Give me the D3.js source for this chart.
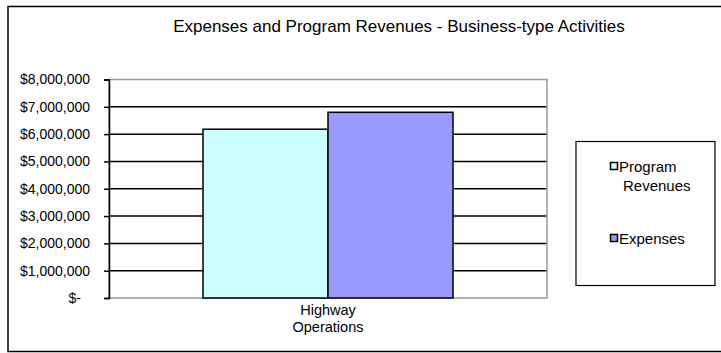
<!DOCTYPE html>
<html>
<head>
<meta charset="utf-8">
<script src="https://cdn.jsdelivr.net/npm/d3@7"></script>
<style>
  html, body { margin: 0; padding: 0; background: #fff; }
  svg { display: block; font-family: "Liberation Sans", Arial, sans-serif; }
</style>
</head>
<body>
<svg id="chart" width="721" height="353"></svg>
<script>
// Chart data
const categories = ["Highway Operations"];
const categoryLines = [["Highway", "Operations"]];
const seriesNames = ["Program Revenues", "Expenses"];
const seriesLegendLines = [["Program", "Revenues"], ["Expenses"]];
const seriesColors = ["#CCFFFF", "#9999FF"];
const programRevenues = [6180000];
const expenses = [6800000];
const tickValues = [0, 1000000, 2000000, 3000000, 4000000, 5000000, 6000000, 7000000, 8000000];

const seriesValues = [programRevenues, expenses];

const svg = d3.select("#chart");

// Outer chart frame (right edge runs past the canvas)
svg.append("rect")
  .attr("x", 8).attr("y", 6.5)
  .attr("width", 730).attr("height", 345)
  .attr("fill", "#fff").attr("stroke", "#000").attr("stroke-width", 1.5);

// Title
svg.append("text")
  .attr("x", 399).attr("y", 32)
  .attr("text-anchor", "middle")
  .attr("font-size", 17)
  .attr("fill", "#000")
  .text("Expenses and Program Revenues - Business-type Activities");

// Plot area
const plot = { left: 109, right: 547, top: 79.5, bottom: 298 };

const y = d3.scaleLinear().domain([0, 8000000]).range([plot.bottom, plot.top]);

const x = d3.scaleBand()
  .domain(categories)
  .range([plot.left, plot.right])
  .paddingInner(0)
  .paddingOuter(0.376);

const xs = d3.scaleBand()
  .domain(seriesNames)
  .range([0, x.bandwidth()])
  .padding(0);

// Horizontal gridlines
const g = svg.append("g");
g.selectAll("line.grid")
  .data(tickValues.filter(v => v > 0 && v < 8000000))
  .join("line")
  .attr("class", "grid")
  .attr("x1", plot.left).attr("x2", plot.right)
  .attr("y1", d => y(d)).attr("y2", d => y(d))
  .attr("stroke", "#000").attr("stroke-width", 1.5);

// Plot area border (gray)
g.append("rect")
  .attr("x", plot.left).attr("y", plot.top)
  .attr("width", plot.right - plot.left).attr("height", plot.bottom - plot.top)
  .attr("fill", "none").attr("stroke", "#999").attr("stroke-width", 1.5);

// Bars
const bars = svg.append("g");
categories.forEach((c, ci) => {
  seriesNames.forEach((s, si) => {
    const v = seriesValues[si][ci];
    bars.append("rect")
      .attr("x", x(c) + xs(s))
      .attr("y", y(v))
      .attr("width", xs.bandwidth())
      .attr("height", y(0) - y(v))
      .attr("fill", seriesColors[si])
      .attr("stroke", "#000").attr("stroke-width", 1.5);
  });
});

// Y axis
const fmt = d3.format(",");
const yAxis = d3.axisLeft(y)
  .tickValues(tickValues)
  .tickSize(5)
  .tickPadding(14)
  .tickFormat(d => d === 0 ? "$-" : "$" + fmt(d));

const ya = svg.append("g")
  .attr("transform", `translate(${plot.left},0)`)
  .call(yAxis);
ya.select(".domain").attr("stroke", "#000").attr("stroke-width", 1.5);
ya.selectAll(".tick line").attr("stroke", "#000").attr("stroke-width", 1.5);
ya.selectAll(".tick text")
  .attr("font-size", 14)
  .attr("font-family", "Liberation Sans, Arial, sans-serif")
  .attr("fill", "#000")
  .attr("dx", d => d === 0 ? -9 : 0);

// Category labels
categories.forEach((c, ci) => {
  const cx = x(c) + x.bandwidth() / 2;
  const t = svg.append("text")
    .attr("x", cx)
    .attr("y", 315)
    .attr("text-anchor", "middle")
    .attr("font-size", 14.5)
    .attr("fill", "#000");
  categoryLines[ci].forEach((line, li) => {
    t.append("tspan")
      .attr("x", cx)
      .attr("dy", li === 0 ? 0 : 17)
      .text(line);
  });
});

// Legend
const legend = svg.append("g");
legend.append("rect")
  .attr("x", 576).attr("y", 141.5)
  .attr("width", 139).attr("height", 144)
  .attr("fill", "#fff").attr("stroke", "#000").attr("stroke-width", 1.2);

const legendRows = [172, 244];
seriesNames.forEach((s, si) => {
  const baseY = legendRows[si];
  legend.append("rect")
    .attr("x", 610.5).attr("y", baseY - 9.5)
    .attr("width", 7).attr("height", 7)
    .attr("fill", seriesColors[si])
    .attr("stroke", "#000").attr("stroke-width", 1.5);
  const t = legend.append("text")
    .attr("x", 619).attr("y", baseY)
    .attr("font-size", 15)
    .attr("fill", "#000");
  seriesLegendLines[si].forEach((line, li) => {
    t.append("tspan")
      .attr("x", li === 0 ? 619 : 623)
      .attr("dy", li === 0 ? 0 : 19)
      .text(line);
  });
});
</script>
</body>
</html>
